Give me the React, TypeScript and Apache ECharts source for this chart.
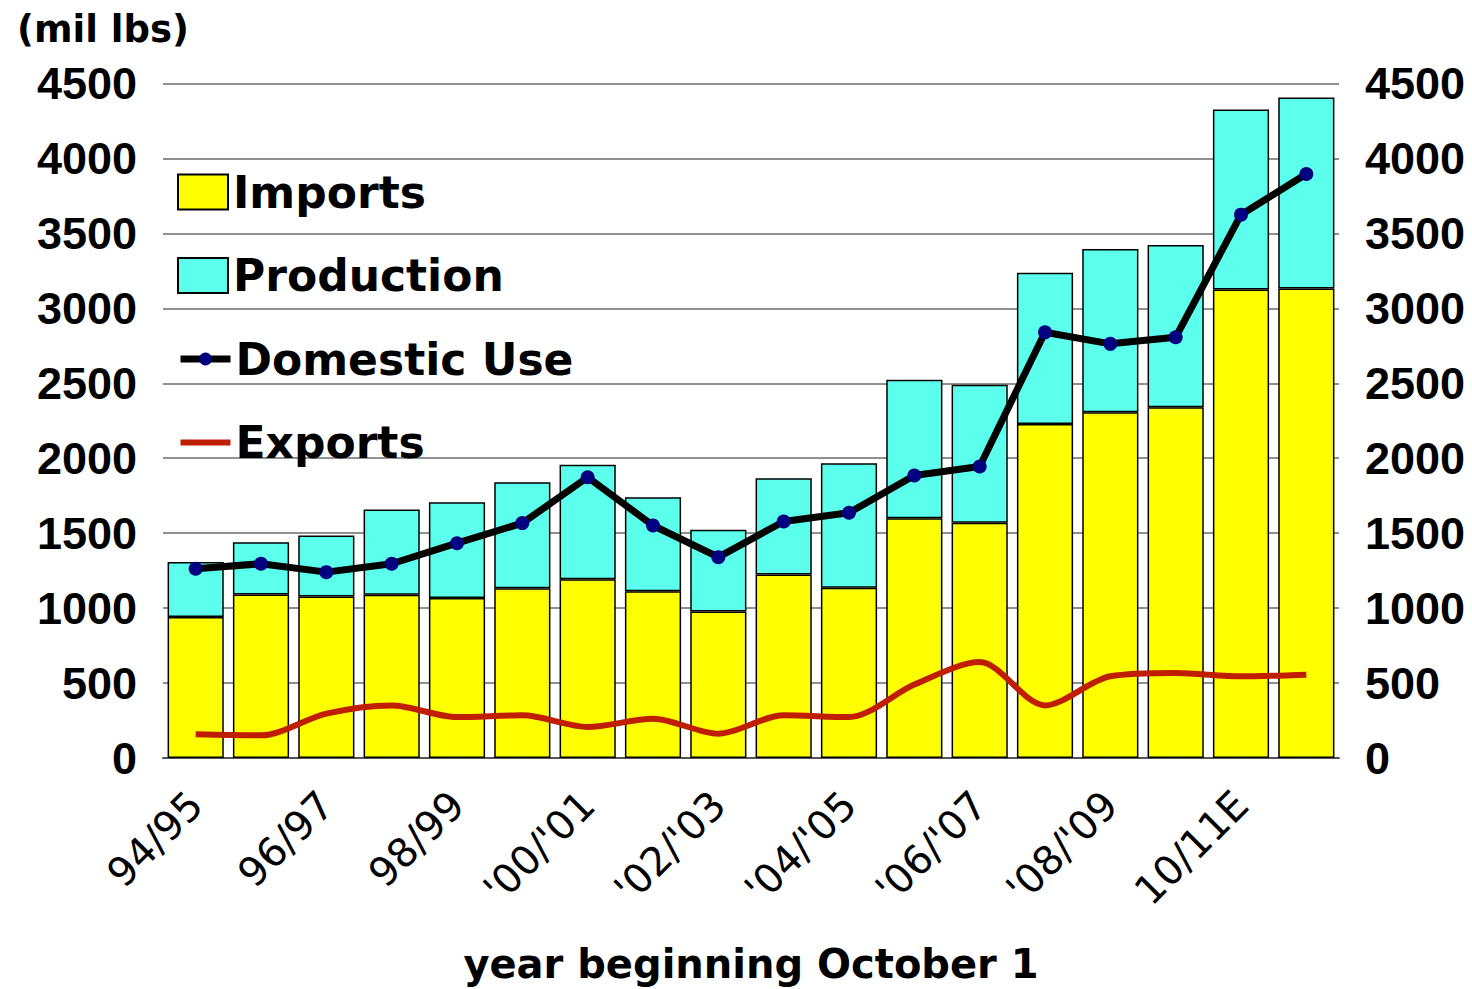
import React, { useEffect, useRef } from 'react';
import * as echarts from 'echarts';

const categories = [
  "94/95", "95/96", "96/97", "97/98", "98/99", "99/00", "'00/'01", "'01/'02", "'02/'03",
  "'03/'04", "'04/'05", "'05/'06", "'06/'07", "'07/'08", "'08/'09", "'09/'10", "10/11E", "11/12F",
];
const imports = [940, 1090, 1078, 1089, 1067, 1133, 1192, 1113, 978, 1225, 1136, 1600, 1569, 2229, 2307, 2340, 3125, 3133];
const production = [367, 350, 407, 569, 640, 707, 764, 627, 544, 642, 831, 923, 922, 1009, 1089, 1083, 1202, 1274];
const domesticUse = [1263, 1296, 1240, 1296, 1433, 1567, 1873, 1551, 1340, 1578, 1636, 1885, 1945, 2840, 2763, 2807, 3625, 3896];
const exportsData = [158, 151, 296, 351, 273, 285, 207, 262, 162, 285, 273, 490, 640, 351, 545, 567, 545, 556];
const yMin = 0;
const yMax = 4500;
const yStep = 500;

const legendFont = { fontFamily: 'DejaVu Sans', fontWeight: 'bold', fontSize: 44, lineHeight: 44, color: '#000' };
const numFont = { fontFamily: 'Liberation Sans', fontWeight: 'bold', fontSize: 45, color: '#000' };
const plainNumber = (v: number) => String(v);

export default function App() {
  const ref = useRef<HTMLDivElement>(null);
  useEffect(() => {
    const chart = echarts.init(ref.current as HTMLDivElement, null, { renderer: 'svg' });
    chart.setOption({
      animation: false,
      backgroundColor: '#fff',
      title: {
        text: '(mil lbs)',
        left: 12,
        top: 6,
        textStyle: { fontFamily: 'DejaVu Sans', fontWeight: 'bold', fontSize: 37, color: '#000' },
      },
      grid: { left: 163, right: 133, top: 83.5, bottom: 231, containLabel: false, outerBoundsMode: 'none' },
      legend: [
        {
          orient: 'vertical', left: 172, top: 165, itemWidth: 50, itemHeight: 35, itemGap: 39.5,
          icon: 'rect', selectedMode: false,
          data: ['Imports', 'Production'],
          textStyle: legendFont,
        },
        {
          orient: 'vertical', left: 172, top: 332, itemWidth: 50, itemHeight: 16, itemGap: 39.5,
          selectedMode: false,
          lineStyle: { width: 7 },
          data: ['Domestic Use', { name: 'Exports', icon: 'path://M0,0H50V6H0Z' }],
          textStyle: legendFont,
        },
      ],
      xAxis: {
        type: 'category',
        data: categories,
        axisTick: { show: false },
        axisLine: { show: true, lineStyle: { color: '#555', width: 2 } },
        axisLabel: {
          interval: 1, rotate: 45, margin: 40,
          fontFamily: 'DejaVu Sans', fontSize: 40, color: '#000',
        },
        name: 'year beginning October 1',
        nameLocation: 'middle',
        nameGap: 186,
        nameTextStyle: { fontFamily: 'DejaVu Sans', fontWeight: 'bold', fontSize: 40, color: '#000' },
      },
      yAxis: [
        {
          type: 'value', min: yMin, max: yMax, interval: yStep,
          axisLine: { show: false }, axisTick: { show: false },
          axisLabel: { margin: 26, formatter: plainNumber, ...numFont },
          splitLine: { show: true, lineStyle: { color: '#909090', width: 2 } },
        },
        {
          type: 'value', min: yMin, max: yMax, interval: yStep, position: 'right',
          axisLine: { show: false }, axisTick: { show: false },
          axisLabel: { margin: 26, formatter: plainNumber, ...numFont },
          splitLine: { show: false },
        },
      ],
      series: [
        {
          name: 'Imports', type: 'bar', stack: 'total', data: imports, barCategoryGap: '14%',
          itemStyle: { color: '#FFFF00', borderColor: '#000', borderWidth: 1.5 },
        },
        {
          name: 'Production', type: 'bar', stack: 'total', data: production,
          itemStyle: { color: '#5CFFEC', borderColor: '#000', borderWidth: 1.5 },
        },
        {
          name: 'Domestic Use', type: 'line', data: domesticUse, symbol: 'circle', symbolSize: 14,
          lineStyle: { color: '#000', width: 7 }, itemStyle: { color: '#000080' }, z: 5,
        },
        {
          name: 'Exports', type: 'line', data: exportsData, symbol: 'none', smooth: 0.3,
          lineStyle: { color: '#C01E00', width: 6 }, itemStyle: { color: '#C01E00' }, z: 4,
        },
      ],
    });
    return () => chart.dispose();
  }, []);
  return (
    <div
      ref={ref}
      style={{ position: 'fixed', left: 0, top: 0, width: 1472, height: 989, background: '#fff' }}
    />
  );
}
